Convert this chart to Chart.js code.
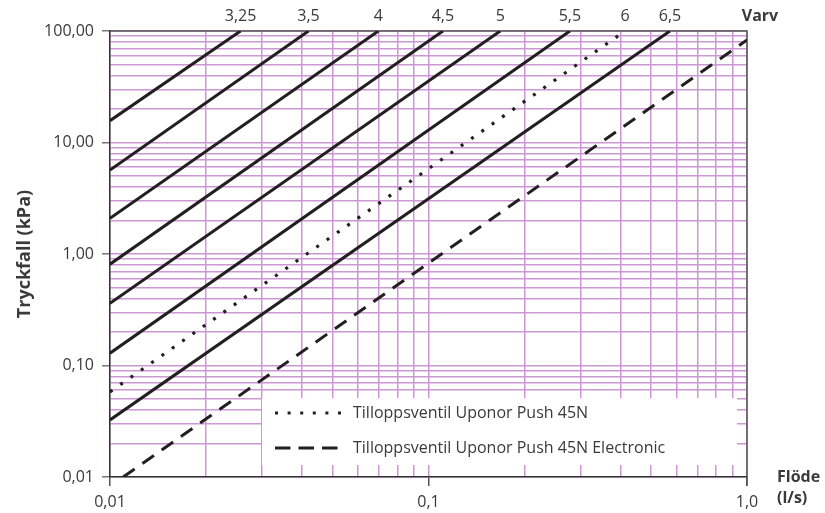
<!DOCTYPE html>
<html>
<head>
<meta charset="utf-8">
<script src="https://cdn.jsdelivr.net/npm/chart.js@4.4.0/dist/chart.umd.min.js"></script>
<style>
  html, body { margin: 0; padding: 0; background: #fff; }
</style>
</head>
<body>
<canvas id="chart" width="825" height="513"></canvas>
<script>
// valve setting (varv) of each solid/dotted line, as printed along the top
const varv = ['3,25', '3,5', '4', '4,5', '5', '5,5', '6', '6,5'];
// pressure drop (kPa) where each line leaves the left edge, flow 0,01 l/s
const startDrop = [15.7, 5.67, 2.09, 0.81, 0.361, 0.129, 0.058, 0.0325];
// flow (l/s) where each line reaches 100 kPa at the top
const endFlow = [0.0257, 0.042, 0.0696, 0.111, 0.168, 0.278, 0.414, 0.573];
// the Electronic valve (dashed line), two ends
const elFlow = [0.011, 1.0];
const elDrop = [0.01, 83];

const legendText = ['Tilloppsventil Uponor Push 45N', 'Tilloppsventil Uponor Push 45N Electronic'];

const xTicks = [0.01, 0.1, 1];
const xTickText = ['0,01', '0,1', '1,0'];
const yTicks = [0.01, 0.1, 1, 10, 100];
const yTickText = ['0,01', '0,10', '1,00', '10,00', '100,00'];

const INK = '#231f20';
const TEXT = '#3a3a3a';
const GRID = '#cc98d3';
const FONT = '"Open Sans", "Noto Sans", sans-serif';

// every 1..9 step of each decade, for the grid
function logGrid(min, max) {
  const out = [];
  for (let e = Math.round(Math.log10(min)); e < Math.round(Math.log10(max)); e++) {
    for (let m = 1; m < 10; m++) out.push(+(m * Math.pow(10, e)).toPrecision(3));
  }
  out.push(max);
  return out;
}

function findIdx(v, list) {
  return list.findIndex(t => Math.abs(Math.log10(t) - Math.log10(v)) < 1e-6);
}

const datasets = varv.map(function(v, i) {
  const dotted = i === 6;
  return {
    label: dotted ? legendText[0] : v,
    varv: v,
    inLegend: dotted,
    data: [{x: 0.01, y: startDrop[i]}, {x: endFlow[i], y: 100}],
    borderColor: INK,
    borderWidth: dotted ? 3.2 : 3,
    borderDash: dotted ? [3, 9.6] : [],
    pointRadius: 0
  };
});
datasets.push({
  label: legendText[1],
  inLegend: true,
  data: elFlow.map((x, i) => ({x: x, y: elDrop[i]})),
  borderColor: INK,
  borderWidth: 3,
  borderDash: [14, 9.5],
  pointRadius: 0
});

const decorations = {
  id: 'decorations',
  beforeDatasetsDraw(chart) {
    const a = chart.chartArea, c = chart.ctx;
    c.save();
    // white box for the legend, cutting the grid
    c.fillStyle = '#fff';
    c.fillRect(a.left + 152, a.bottom - 79, a.right - a.left - 162, 67);
    // top and right frame
    c.strokeStyle = '#555';
    c.lineWidth = 1.5;
    c.beginPath();
    c.moveTo(a.left, a.top);
    c.lineTo(a.right, a.top);
    c.lineTo(a.right, a.bottom + 9);
    c.stroke();
    c.restore();
  },
  afterDraw(chart) {
    const a = chart.chartArea, c = chart.ctx;
    c.save();
    c.fillStyle = TEXT;
    c.font = '16px ' + FONT;
    c.textAlign = 'center';
    c.textBaseline = 'middle';
    // varv labels above where each line leaves the top
    chart.data.datasets.forEach(function(ds, i) {
      if (!ds.varv) return;
      const pts = chart.getDatasetMeta(i).data;
      c.fillText(ds.varv, pts[pts.length - 1].x, a.top - 15);
    });
    c.font = 'bold 16px ' + FONT;
    c.fillText('Varv', a.right + 13, a.top - 15);
    c.textAlign = 'left';
    c.fillText('Flöde', a.right + 30, a.bottom);
    c.fillText('(l/s)', a.right + 30, a.bottom + 21);

    // legend
    let row = 0;
    chart.data.datasets.forEach(function(ds) {
      if (!ds.inLegend) return;
      const y = a.bottom - 64 + row * 35;
      c.strokeStyle = ds.borderColor;
      c.lineWidth = ds.borderWidth;
      c.setLineDash(ds.borderDash.length && ds.borderDash[0] > 5 ? [15.5, 8] : ds.borderDash);
      c.beginPath();
      c.moveTo(a.left + 165, y);
      c.lineTo(a.left + 231, y);
      c.stroke();
      c.setLineDash([]);
      c.fillStyle = TEXT;
      c.font = '16px ' + FONT;
      c.fillText(ds.label, a.left + 243, y);
      row++;
    });
    c.restore();
  }
};

new Chart(document.getElementById('chart'), {
  type: 'line',
  data: { datasets: datasets },
  options: {
    responsive: false,
    animation: false,
    layout: { padding: { left: 0, right: 78, top: 31, bottom: 0 } },
    plugins: { legend: { display: false }, tooltip: { enabled: false } },
    scales: {
      x: {
        type: 'logarithmic',
        min: 0.01,
        max: 1,
        afterBuildTicks: s => { s.ticks = logGrid(0.01, 1).map(v => ({value: v})); },
        afterFit: s => { s.height = 36; },
        ticks: {
          autoSkip: false,
          maxRotation: 0,
          padding: 7,
          color: TEXT,
          font: { family: FONT, size: 16 },
          callback: v => { const k = findIdx(v, xTicks); return k < 0 ? '' : xTickText[k]; }
        },
        grid: {
          color: GRID,
          lineWidth: 1.5,
          tickLength: 9,
          tickColor: ctx => findIdx(ctx.tick.value, xTicks) < 0 ? 'rgba(0,0,0,0)' : '#555'
        },
        border: { color: '#333', width: 1.5 }
      },
      y: {
        type: 'logarithmic',
        min: 0.01,
        max: 100,
        afterBuildTicks: s => { s.ticks = logGrid(0.01, 100).map(v => ({value: v})); },
        afterFit: s => { s.width = 110; },
        ticks: {
          autoSkip: false,
          padding: 8,
          color: TEXT,
          font: { family: FONT, size: 16 },
          callback: v => { const k = findIdx(v, yTicks); return k < 0 ? '' : yTickText[k]; }
        },
        grid: {
          color: GRID,
          lineWidth: 1.5,
          tickLength: 8,
          tickColor: ctx => findIdx(ctx.tick.value, yTicks) < 0 ? 'rgba(0,0,0,0)' : '#777'
        },
        border: { color: '#333', width: 1.5 },
        title: {
          display: true,
          text: 'Tryckfall (kPa)',
          color: TEXT,
          font: { family: FONT, size: 18, weight: 'bold' },
          padding: { top: 14 }
        }
      }
    }
  },
  plugins: [decorations]
});
</script>
</body>
</html>
